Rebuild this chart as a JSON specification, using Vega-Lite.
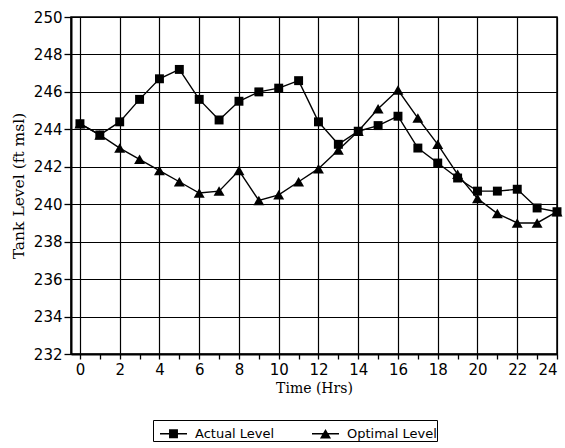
{
  "$schema": "https://vega.github.io/schema/vega-lite/v6.json",
  "width": 486,
  "height": 337,
  "autosize": {"type": "none"},
  "padding": {"left": 71, "top": 17, "right": 8, "bottom": 94},
  "background": "white",
  "config": {
    "view": {"stroke": "black", "strokeWidth": 1.5},
    "axis": {
      "domainColor": "black", "domainWidth": 2,
      "tickColor": "black", "tickWidth": 1.3,
      "gridColor": "black", "gridWidth": 1.2, "gridOpacity": 1,
      "labelColor": "black", "labelFont": "DejaVu Sans", "labelFontSize": 15,
      "titleColor": "black", "titleFont": "DejaVu Serif", "titleFontWeight": "normal", "titleFontSize": 14
    }
  },
  "data": {
    "values": [
      {"h": 0, "series": "Actual Level", "level": 244.3},
      {"h": 1, "series": "Actual Level", "level": 243.7},
      {"h": 2, "series": "Actual Level", "level": 244.4},
      {"h": 3, "series": "Actual Level", "level": 245.6},
      {"h": 4, "series": "Actual Level", "level": 246.7},
      {"h": 5, "series": "Actual Level", "level": 247.2},
      {"h": 6, "series": "Actual Level", "level": 245.6},
      {"h": 7, "series": "Actual Level", "level": 244.5},
      {"h": 8, "series": "Actual Level", "level": 245.5},
      {"h": 9, "series": "Actual Level", "level": 246.0},
      {"h": 10, "series": "Actual Level", "level": 246.2},
      {"h": 11, "series": "Actual Level", "level": 246.6},
      {"h": 12, "series": "Actual Level", "level": 244.4},
      {"h": 13, "series": "Actual Level", "level": 243.2},
      {"h": 14, "series": "Actual Level", "level": 243.9},
      {"h": 15, "series": "Actual Level", "level": 244.2},
      {"h": 16, "series": "Actual Level", "level": 244.7},
      {"h": 17, "series": "Actual Level", "level": 243.0},
      {"h": 18, "series": "Actual Level", "level": 242.2},
      {"h": 19, "series": "Actual Level", "level": 241.4},
      {"h": 20, "series": "Actual Level", "level": 240.7},
      {"h": 21, "series": "Actual Level", "level": 240.7},
      {"h": 22, "series": "Actual Level", "level": 240.8},
      {"h": 23, "series": "Actual Level", "level": 239.8},
      {"h": 24, "series": "Actual Level", "level": 239.6},
      {"h": 0, "series": "Optimal Level", "level": 244.3},
      {"h": 1, "series": "Optimal Level", "level": 243.7},
      {"h": 2, "series": "Optimal Level", "level": 243.0},
      {"h": 3, "series": "Optimal Level", "level": 242.4},
      {"h": 4, "series": "Optimal Level", "level": 241.8},
      {"h": 5, "series": "Optimal Level", "level": 241.2},
      {"h": 6, "series": "Optimal Level", "level": 240.6},
      {"h": 7, "series": "Optimal Level", "level": 240.7},
      {"h": 8, "series": "Optimal Level", "level": 241.8},
      {"h": 9, "series": "Optimal Level", "level": 240.2},
      {"h": 10, "series": "Optimal Level", "level": 240.5},
      {"h": 11, "series": "Optimal Level", "level": 241.2},
      {"h": 12, "series": "Optimal Level", "level": 241.9},
      {"h": 13, "series": "Optimal Level", "level": 242.9},
      {"h": 14, "series": "Optimal Level", "level": 243.9},
      {"h": 15, "series": "Optimal Level", "level": 245.1},
      {"h": 16, "series": "Optimal Level", "level": 246.1},
      {"h": 17, "series": "Optimal Level", "level": 244.6},
      {"h": 18, "series": "Optimal Level", "level": 243.2},
      {"h": 19, "series": "Optimal Level", "level": 241.6},
      {"h": 20, "series": "Optimal Level", "level": 240.3},
      {"h": 21, "series": "Optimal Level", "level": 239.5},
      {"h": 22, "series": "Optimal Level", "level": 239.0},
      {"h": 23, "series": "Optimal Level", "level": 239.0},
      {"h": 24, "series": "Optimal Level", "level": 239.6}
    ]
  },
  "encoding": {
    "x": {
      "field": "h", "type": "quantitative",
      "scale": {"domain": [-0.45, 24], "nice": false, "zero": false},
      "axis": {
        "title": "Time (Hrs)",
        "values": [0,1,2,3,4,5,6,7,8,9,10,11,12,13,14,15,16,17,18,19,20,21,22,23,24],
        "labelExpr": "datum.value % 2 == 0 ? datum.label : ''",
        "labelAlign": {"condition": {"test": "datum.value == 24", "value": "right"}, "value": "center"},
        "gridOpacity": {"condition": {"test": "datum.value % 2 == 0", "value": 1}, "value": 0},
        "tickSize": 5, "labelPadding": 3, "titlePadding": 4, "labelFlush": false
      }
    },
    "y": {
      "field": "level", "type": "quantitative",
      "scale": {"domain": [232, 250], "nice": false, "zero": false},
      "axis": {
        "title": "Tank Level (ft msl)",
        "titleFontSize": 15.5,
        "values": [232,234,236,238,240,242,244,246,248,250],
        "tickSize": 7, "labelPadding": 2, "titlePadding": 7
      }
    }
  },
  "layer": [
    {
      "mark": {"type": "line", "color": "black", "strokeWidth": 1.4},
      "encoding": {"detail": {"field": "series"}}
    },
    {
      "transform": [{"filter": "datum.series == 'Actual Level'"}],
      "mark": {"type": "point", "shape": "square", "filled": true, "color": "black", "opacity": 1, "size": 80}
    },
    {
      "transform": [{"filter": "datum.series == 'Optimal Level'"}],
      "mark": {"type": "point", "shape": "triangle-up", "filled": true, "color": "black", "opacity": 1, "size": 120}
    },
    {
      "transform": [{"filter": "datum.h > 100"}],
      "mark": {"type": "point", "filled": true, "color": "black", "opacity": 1},
      "encoding": {
        "shape": {
          "field": "series", "type": "nominal",
          "scale": {
            "domain": ["Actual Level", "Optimal Level"],
            "range": ["M-1,-0.055H1V0.055H-1ZM-0.33,-0.33H0.33V0.33H-0.33Z", "M-1,-0.055H1V0.055H-1ZM0,-0.36L0.41,0.36H-0.41Z"]
          },
          "legend": {
            "title": null,
            "orient": "none",
            "legendX": 82,
            "legendY": 403,
            "direction": "horizontal",
            "strokeColor": "black",
            "padding": 0,
            "symbolOffset": 7,
            "symbolSize": 729,
            "symbolFillColor": "black",
            "symbolStrokeWidth": 0,
            "symbolOpacity": 1,
            "labelFont": "DejaVu Sans",
            "labelFontSize": 13,
            "labelColor": "black",
            "labelOffset": 8,
            "columnPadding": 30
          }
        }
      }
    }
  ]
}
